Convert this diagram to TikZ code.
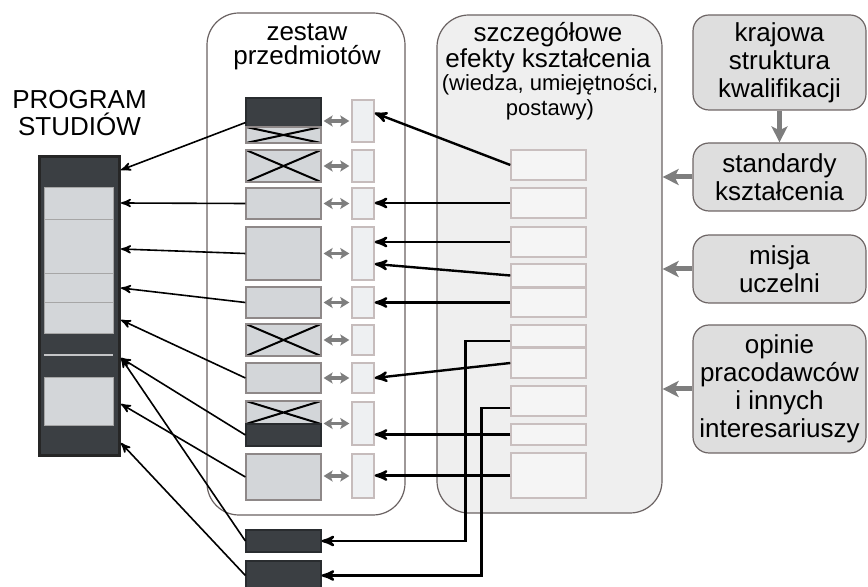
\documentclass[tikz,border=0pt]{standalone}
\usepackage{fontspec}
\setmainfont{Liberation Sans}
\usetikzlibrary{arrows,arrows.meta,positioning,calc}
\definecolor{darkbox}{HTML}{3B3F43}
\definecolor{lightbox}{HTML}{D3D6D9}
\definecolor{boxline}{HTML}{8E8888}
\definecolor{smallfill}{HTML}{EEF0F2}
\definecolor{smallline}{HTML}{C6BCBC}
\definecolor{efffill}{HTML}{F5F5F5}
\definecolor{effline}{HTML}{C9BFBF}
\definecolor{frameline}{HTML}{6A6262}
\definecolor{effbg}{HTML}{EFEFEF}
\definecolor{srcfill}{HTML}{DEDEDE}
\definecolor{srcline}{HTML}{6E6666}
\definecolor{arrowgrey}{HTML}{7E7E7E}

\begin{document}
\begin{tikzpicture}[x=0.5pt, y=-0.5pt, >=stealth', semithick, font=\fontsize{13}{14}\selectfont]
\tikzstyle{frame}=[draw=frameline, line width=0.6pt, rounded corners=16pt, inner sep=0pt]
\tikzstyle{head}=[anchor=north, align=center, inner sep=0pt]
\tikzstyle{course}=[draw=boxline, fill=lightbox, line width=0.6pt, minimum width=37.5pt, inner sep=0pt]
\tikzstyle{dark}=[course, fill=darkbox, draw=darkbox!70!black]
\tikzstyle{crossed}=[course, path picture={\draw[black, line width=1pt] (path picture bounding box.north west) -- (path picture bounding box.south east) (path picture bounding box.south west) -- (path picture bounding box.north east);}]
\tikzstyle{small}=[draw=smallline, fill=smallfill, line width=0.7pt, minimum width=11pt, inner sep=0pt]
\tikzstyle{effect}=[draw=effline, fill=efffill, line width=0.7pt, minimum width=37.5pt, inner sep=0pt]
\tikzstyle{source}=[draw=srcline, fill=srcfill, line width=0.6pt, rounded corners=8pt, minimum width=86.5pt, align=center, inner sep=0pt, font=\fontsize{13}{14}\selectfont]
\tikzstyle{link}=[->, line width=1.2pt]
\tikzstyle{feed}=[->, line width=0.8pt]
\tikzstyle{pair}=[{Stealth[length=4.5pt,width=5.5pt,inset=1pt]}-{Stealth[length=4.5pt,width=5.5pt,inset=1pt]}, draw=arrowgrey, fill=arrowgrey, line width=1.6pt, shorten <=1pt, shorten >=1pt]
\tikzstyle{push}=[-{Stealth[length=8pt,width=8pt,inset=2pt]}, draw=arrowgrey, fill=arrowgrey, line width=2.5pt]

\useasboundingbox (0,0) rectangle (868,587);
\clip (0,0) rectangle (868,587);

% frames and headers
\node[frame, fill=white, minimum width=99pt, minimum height=251pt] (fz) at (306,264) {};
\node[frame, fill=effbg, minimum width=112.5pt, minimum height=249pt] (fe) at (549.5,264) {};
\node[head, font=\fontsize{13}{12}\selectfont] (hz) at (307,23) {zestaw\\przedmiotów};
\node[head, font=\fontsize{13}{13}\selectfont] (he) at (548,22) {szczegółowe\\efekty kształcenia};
\node[head, font=\fontsize{11}{12.5}\selectfont] (hw) at (550,74) {(wiedza, umiejętności,\\postawy)};
\node[head, font=\fontsize{13}{13.5}\selectfont] (hp) at (79.5,90) {PROGRAM\\STUDIÓW};

% program bar
\node[fill=darkbox, draw=black!85, line width=1.5pt, minimum width=40pt, minimum height=149.5pt, inner sep=0pt] (prog) at (79.5,306) {};
\foreach \a/\b in {187/219, 219/273, 273/302, 302/333, 377/425}
  \draw[fill=lightbox, draw=gray!70, thin] (44,\a) rectangle (113,\b);
\draw[white!70!darkbox, line width=1pt] (44,355) -- (113,355);
\coordinate (b1) at (121,170);
\coordinate (b2) at (121,203);
\coordinate (b3) at (121,249);
\coordinate (b4) at (121,288);
\coordinate (b5) at (121,320);
\coordinate (b6) at (121,358);
\coordinate (b7) at (121,404);
\coordinate (b8) at (121,443);

% courses
\node[dark, minimum height=14.5pt] (c1) at (283.5,112.5) {};
\node[crossed, minimum height=8pt] (c1x) at (283.5,135) {};
\node[crossed, minimum height=16pt] (c2) at (283.5,166) {};
\node[course, minimum height=15.5pt] (c3) at (283.5,203.5) {};
\node[course, minimum height=26.5pt] (c4) at (283.5,253.5) {};
\node[course, minimum height=15.5pt] (c5) at (283.5,302.5) {};
\node[crossed, minimum height=16pt] (c6) at (283.5,340) {};
\node[course, minimum height=15pt] (c7) at (283.5,378) {};
\node[crossed, minimum height=11.5pt] (c8x) at (283.5,412.5) {};
\node[dark, minimum height=11pt] (c8) at (283.5,435) {};
\node[course, minimum height=23pt] (c9) at (283.5,477) {};
\node[dark, minimum height=11pt] (cA) at (283.5,541) {};
\node[dark, minimum height=14.5pt] (cB) at (283.5,575.5) {};

% small boxes
\node[small, minimum height=21pt] (s1) at (363,121) {};
\node[small, minimum height=16pt] (s2) at (363,166) {};
\node[small, minimum height=15.5pt] (s3) at (363,203.5) {};
\node[small, minimum height=26.5pt] (s4) at (363,253.5) {};
\node[small, minimum height=15.5pt] (s5) at (363,302.5) {};
\node[small, minimum height=15pt] (s6) at (363,340) {};
\node[small, minimum height=15pt] (s7) at (363,378) {};
\node[small, minimum height=21.5pt] (s8) at (363,423.5) {};
\node[small, minimum height=22pt] (s9) at (363,476) {};

% effects
\node[effect, minimum height=15pt] (e1) at (548.5,165) {};
\node[effect, minimum height=15pt] (e2) at (548.5,203) {};
\node[effect, minimum height=15pt] (e3) at (548.5,242) {};
\node[effect, minimum height=11.5pt] (e4) at (548.5,275.5) {};
\node[effect, minimum height=14.5pt] (e5) at (548.5,302.5) {};
\node[effect, minimum height=11pt] (e6) at (548.5,336) {};
\node[effect, minimum height=15pt] (e7) at (548.5,363) {};
\node[effect, minimum height=15pt] (e8) at (548.5,401) {};
\node[effect, minimum height=10.5pt] (e9) at (548.5,434.5) {};
\node[effect, minimum height=22.5pt] (e10) at (548.5,475.5) {};

% sources
\node[source, minimum height=47.5pt] (r1) at (779.5,62.5) {krajowa\\struktura\\kwalifikacji};
\node[source, minimum height=34pt] (r2) at (779.5,177) {standardy\\kształcenia};
\node[source, minimum height=34pt] (r3) at (779.5,269) {misja\\uczelni};
\node[source, minimum height=64pt] (r4) at (779.5,389) {opinie\\pracodawców\\i innych\\interesariuszy};

% grey arrows
\foreach \n in {1,...,9}
  \draw[pair] (s\n.west -| c3.east) -- (s\n.west);
\draw[push] (r1.south) -- (r2.north);
\draw[push] (r2.west) -- (r2.west -| fe.east);
\draw[push] (r3.west) -- (r3.west -| fe.east);
\draw[push] (r4.west) -- (r4.west -| fe.east);

% effects to courses
\draw[link] (e1.west) -- ([yshift=4pt]s1.east);
\draw[link] (e2.west) -- (e2.west -| s3.east);
\draw[link] (e3.west) -- (e3.west -| s4.east);
\draw[link] (e4.west) -- ([yshift=-5.25pt]s4.east);
\draw[link] (e5.west) -- (e5.west -| s5.east);
\draw[link] ([yshift=-2.5pt]e6.west) -- ++(-22.5pt,0) |- (cA.east);
\draw[link] (e7.west) -- (s7.east);
\draw[link] ([yshift=-3.5pt]e8.west) -- ++(-14.5pt,0) |- (cB.east);
\draw[link] (e9.west) -- (e9.west -| s8.east);
\draw[link] (e10.west) -- (e10.west -| s9.east);

% courses to programme
\draw[feed] ([yshift=2.5pt]c1.south west) -- (b1);
\draw[feed] (c3.west) -- (b2);
\draw[feed] (c4.west) -- (b3);
\draw[feed] (c5.west) -- (b4);
\draw[feed] (c7.west) -- (b5);
\draw[feed] (c8.west) -- (b6);
\draw[feed] (cA.west) -- (b6);
\draw[feed] (c9.west) -- (b7);
\draw[feed] (cB.west) -- (b8);
\end{tikzpicture}
\end{document}
